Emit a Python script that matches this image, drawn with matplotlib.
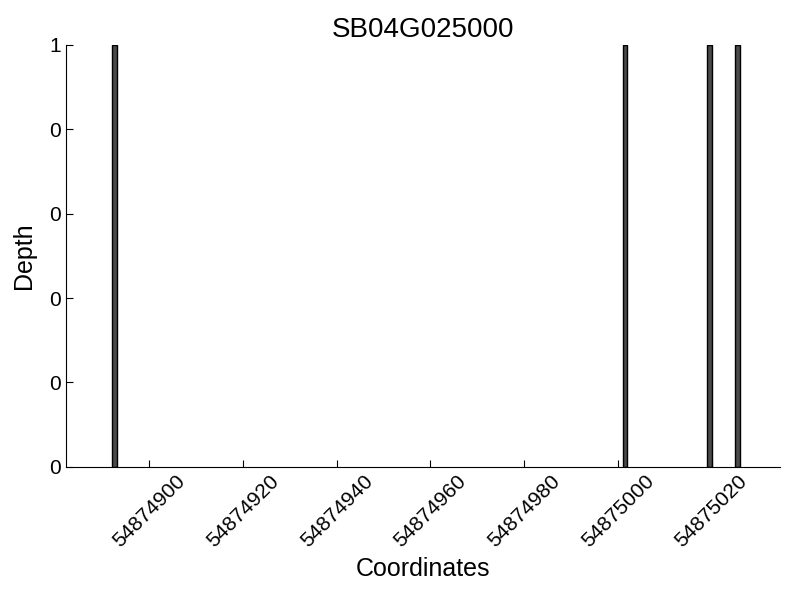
import numpy as np
import matplotlib
matplotlib.use("Agg")
import matplotlib.pyplot as plt
from matplotlib.ticker import FormatStrFormatter

plt.rcParams['font.family'] = ['Liberation Sans', 'DejaVu Sans']

# depth per coordinate
coords = [54874892, 54875001, 54875019, 54875025]
depth = [1, 1, 1, 1]
xticks = [54874900, 54874920, 54874940, 54874960, 54874980, 54875000, 54875020]

fig = plt.figure(figsize=(8, 6), dpi=100)
ax = fig.add_axes([0.0825, 0.222, 0.8925, 0.703])
ax.bar(coords, depth, width=1, align='edge', color='#4a4a4a', edgecolor='black', linewidth=1)

ax.set_xlim(54874882.2, 54875034.6)
ax.set_ylim(0, 1)
ax.set_xticks(xticks)
ax.set_xticklabels([str(x) for x in xticks], rotation=45, fontsize=15)
ax.set_yticks(np.linspace(0, 1, 6))
ax.yaxis.set_major_formatter(FormatStrFormatter('%d'))
ax.tick_params(axis='y', labelsize=15)
ax.tick_params(direction='in', length=5, top=False, right=False)

ax.spines['top'].set_visible(False)
ax.spines['right'].set_visible(False)

ax.set_title('SB04G025000', fontsize=20)
ax.set_xlabel('Coordinates', fontsize=18)
ax.set_ylabel('Depth', fontsize=18, labelpad=10)

fig.savefig('out.png', dpi=100)
